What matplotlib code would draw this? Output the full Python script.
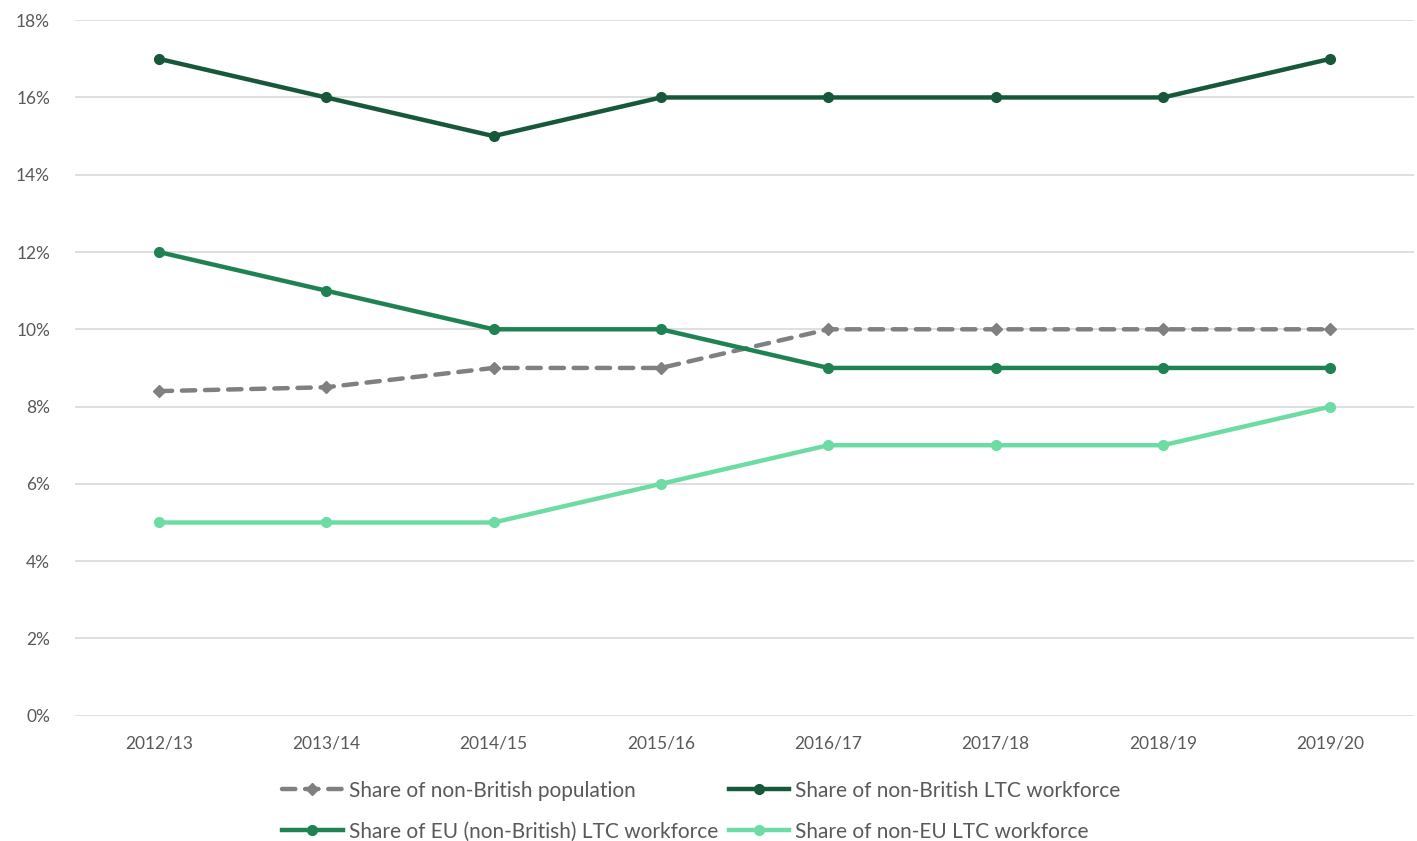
import matplotlib.pyplot as plt
from matplotlib.ticker import FuncFormatter

plt.rcParams['font.family'] = ['Lato', 'DejaVu Sans']

years = ["2012/13", "2013/14", "2014/15", "2015/16", "2016/17", "2017/18", "2018/19", "2019/20"]
pop_share = [8.4, 8.5, 9, 9, 10, 10, 10, 10]
non_british = [17, 16, 15, 16, 16, 16, 16, 17]
eu_share = [12, 11, 10, 10, 9, 9, 9, 9]
non_eu = [5, 5, 5, 6, 7, 7, 7, 8]

text_col = "#595959"

fig = plt.figure(figsize=(14.17, 8.41), dpi=100)
ax = fig.add_axes([0.053, 0.149, 0.945, 0.827])

x = list(range(len(years)))
l_pop, = ax.plot(x, pop_share, color="#808080", lw=3.2, ls=(0, (3, 2.2)),
                 marker="D", ms=6, dash_capstyle="round",
                 label="Share of non-British population")
l_nb, = ax.plot(x, non_british, color="#17583a", lw=3.2, marker="o", ms=7,
                label="Share of non-British LTC workforce")
l_eu, = ax.plot(x, eu_share, color="#1f8253", lw=3.2, marker="o", ms=7,
                label="Share of EU (non-British) LTC workforce")
l_neu, = ax.plot(x, non_eu, color="#6ddba4", lw=3.2, marker="o", ms=7,
                 label="Share of non-EU LTC workforce")

ax.set_xlim(-0.5, len(years) - 0.5)
ax.set_ylim(0, 18)
ax.set_yticks(range(0, 19, 2))
ax.yaxis.set_major_formatter(FuncFormatter(lambda v, p: "%d%%" % v))
ax.set_xticks(x)
ax.set_xticklabels(years)
ax.tick_params(length=0, colors=text_col, labelsize=12.5)
ax.tick_params(axis="y", pad=18)
ax.tick_params(axis="x", pad=14)
ax.grid(axis="y", color="#d9d9d9", lw=1.2)
ax.set_axisbelow(True)
for s in ax.spines.values():
    s.set_visible(False)

fig.legend([l_pop, l_eu, l_nb, l_neu],
           [l.get_label() for l in [l_pop, l_eu, l_nb, l_neu]],
           ncol=2, loc="lower center", bbox_to_anchor=(0.495, -0.023),
           frameon=False, fontsize=15, labelcolor=text_col,
           handlelength=2.9, handletextpad=0.3, columnspacing=0.5,
           labelspacing=1.0)

fig.savefig("out.png", dpi=100)
